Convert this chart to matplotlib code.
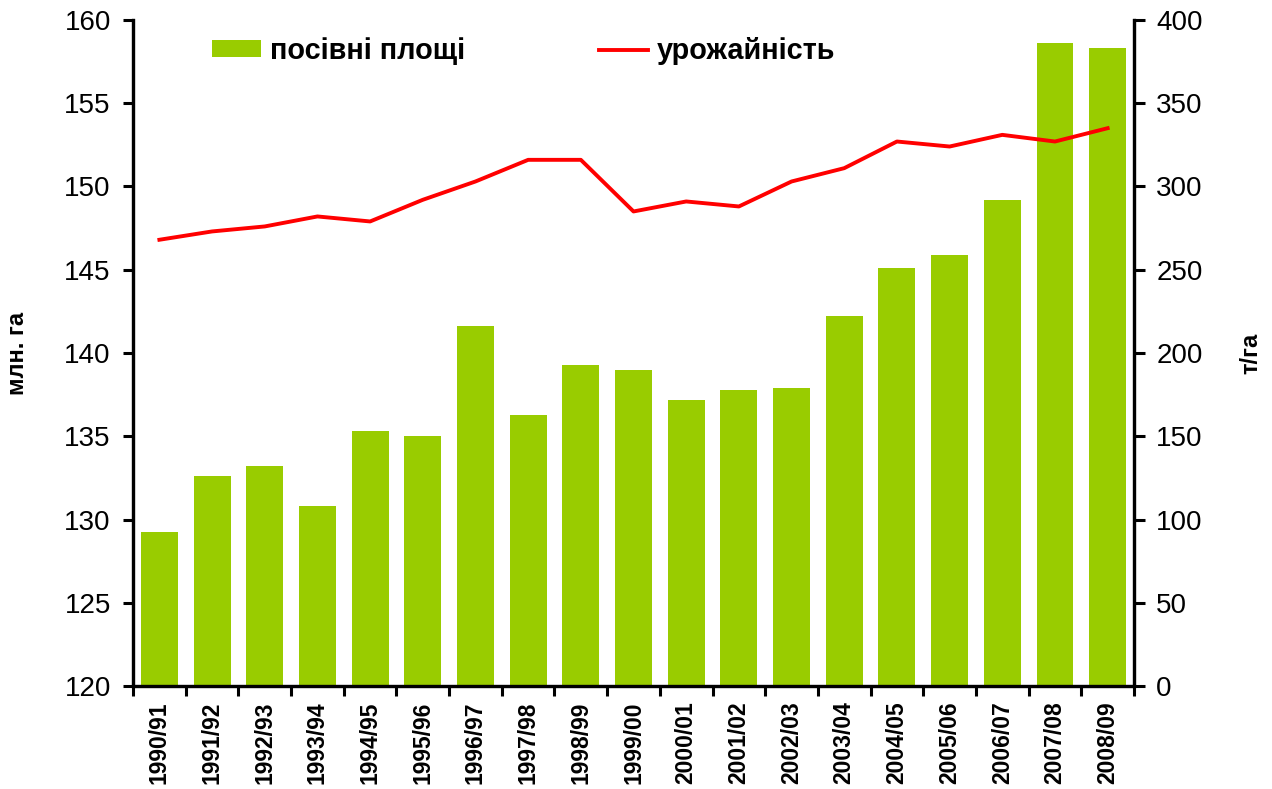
import matplotlib
matplotlib.use("Agg")
import matplotlib.pyplot as plt
import numpy as np
from matplotlib.patches import Patch
from matplotlib.lines import Line2D

plt.rcParams['font.family'] = ['Liberation Sans', 'DejaVu Sans']

# Data
seasons = ['1990/91', '1991/92', '1992/93', '1993/94', '1994/95', '1995/96',
           '1996/97', '1997/98', '1998/99', '1999/00', '2000/01', '2001/02',
           '2002/03', '2003/04', '2004/05', '2005/06', '2006/07', '2007/08',
           '2008/09']
area = [129.25, 132.6, 133.2, 130.8, 135.3, 135.0, 141.6, 136.3, 139.3, 139.0,
        137.2, 137.8, 137.9, 142.2, 145.1, 145.9, 149.2, 158.6, 158.3]
yield_ = [268, 273, 276, 282, 279, 292, 303, 316, 316, 285,
          291, 288, 303, 311, 327, 324, 331, 327, 335]

bar_color = '#99CC00'
line_color = '#FF0000'

fig = plt.figure(figsize=(12.72, 7.89), dpi=100)
ax = fig.add_axes([0.1046, 0.1305, 0.7869, 0.8442])
ax2 = ax.twinx()

x = np.arange(len(seasons))
ax.bar(x, area, width=0.7, color=bar_color, zorder=2)
ax2.plot(x, yield_, color=line_color, lw=2.8, zorder=3)

ax.set_xlim(-0.5, len(seasons) - 0.5)
ax.set_ylim(120, 160)
ax.set_yticks(np.arange(120, 161, 5))
ax2.set_ylim(0, 400)
ax2.set_yticks(np.arange(0, 401, 50))

# category labels centred, ticks on the boundaries
ax.set_xticks(np.arange(-0.5, len(seasons), 1.0))
ax.set_xticklabels([])
ax.set_xticks(x, minor=True)
ax.set_xticklabels(seasons, minor=True, rotation=90, fontsize=16.5,
                   fontweight='bold')
ax.tick_params(axis='x', which='minor', length=0, pad=11)
ax.tick_params(axis='x', which='major', direction='out', length=7, width=2.2)

ax.tick_params(axis='y', direction='out', length=7, width=2.2, labelsize=20, pad=9)
ax2.tick_params(axis='y', direction='out', length=8, width=2.2, labelsize=20, pad=8)

for a in (ax, ax2):
    a.spines['top'].set_visible(False)
    for s in ('left', 'right', 'bottom'):
        a.spines[s].set_linewidth(2.3)

ax.set_ylabel('млн. га', fontsize=17, fontweight='bold')
ax.yaxis.set_label_coords(-0.104, 0.5)
ax2.set_ylabel('т/га', fontsize=17, fontweight='bold')
ax2.yaxis.set_label_coords(1.105, 0.5)

handles = [Patch(facecolor=bar_color, edgecolor='none'),
           Line2D([0], [0], color=line_color, lw=2.8)]
fig.legend(handles, ['посівні площі', 'урожайність'], ncol=2,
           loc='center left', bbox_to_anchor=(0.1667, 0.9354), frameon=False,
           prop={'size': 20.8, 'weight': 'bold'}, handlelength=1.7,
           handleheight=0.55, handletextpad=0.3, columnspacing=4.65,
           borderpad=0, borderaxespad=0)

fig.savefig('out.png', dpi=100)
